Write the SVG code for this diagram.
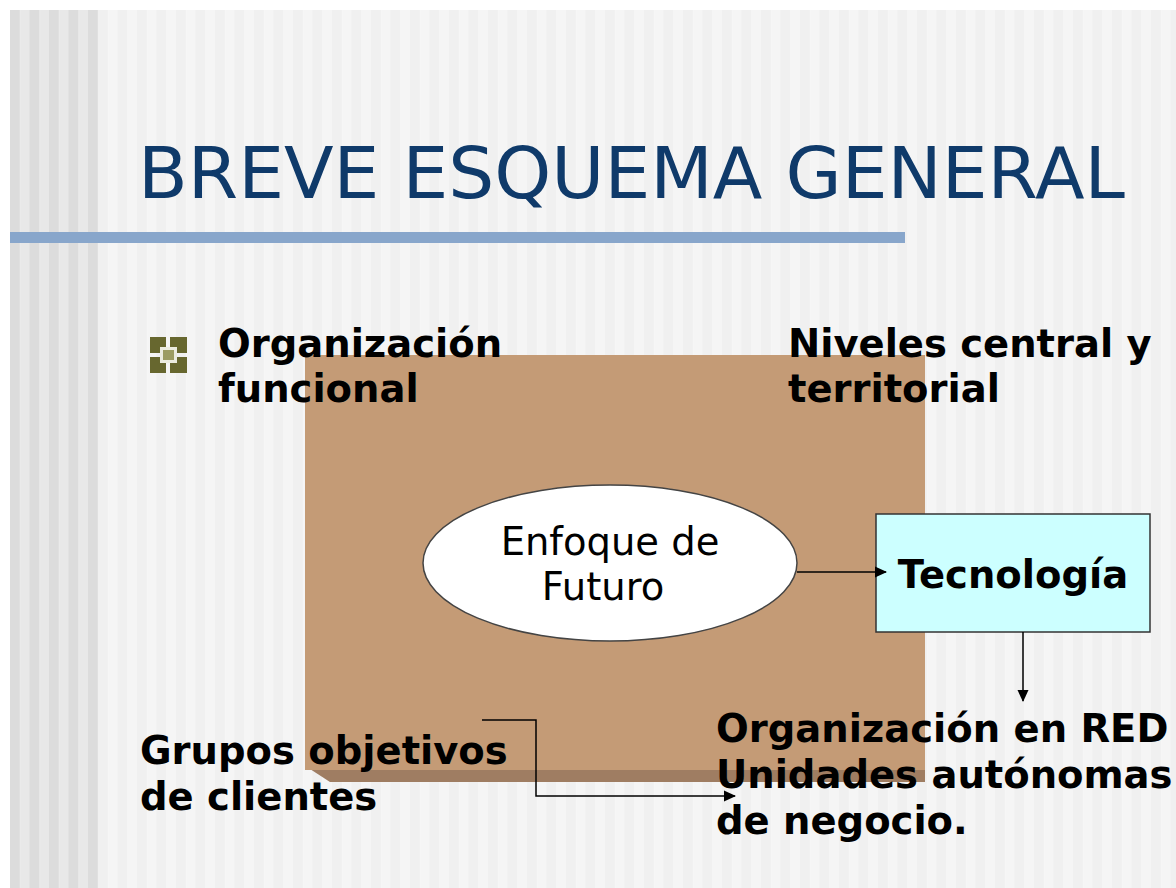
<svg xmlns="http://www.w3.org/2000/svg" width="1176" height="888" viewBox="0 0 1176 888">
  <defs>
    <pattern id="stripeDark" x="10" y="0" width="19.5" height="20" patternUnits="userSpaceOnUse">
      <rect x="0" y="0" width="10" height="20" fill="#dcdcdc"/>
      <rect x="10" y="0" width="9.5" height="20" fill="#e8e8e8"/>
    </pattern>
    <pattern id="stripeLight" x="98" y="0" width="19.5" height="20" patternUnits="userSpaceOnUse">
      <rect x="0" y="0" width="10" height="20" fill="#f0f0f0"/>
      <rect x="10" y="0" width="9.5" height="20" fill="#f5f5f5"/>
    </pattern>
    <marker id="arrow" viewBox="0 0 12 12" refX="11" refY="6" markerWidth="12" markerHeight="12" markerUnits="userSpaceOnUse" orient="auto">
      <path d="M0,0.5 L12,6 L0,11.5 Z" fill="#000"/>
    </marker>
    <style>
      .bold { font-family: "DejaVu Sans", Verdana, sans-serif; font-weight: bold; font-size: 38.5px; fill: #000; }
      .reg { font-family: "DejaVu Sans", Verdana, sans-serif; font-size: 38.5px; fill: #000; }
      .conn { fill: none; stroke: #000; stroke-width: 1.5; }
    </style>
  </defs>

  <!-- background -->
  <rect x="0" y="0" width="1176" height="888" fill="#ffffff"/>
  <rect x="10" y="10" width="88" height="878" fill="url(#stripeDark)"/>
  <rect x="98" y="10" width="1078" height="878" fill="url(#stripeLight)"/>

  <!-- title -->
  <g id="title">
    <text x="138" y="198" font-family="DejaVu Sans, Verdana, sans-serif" font-size="72" fill="#0f3a6a" textLength="987" lengthAdjust="spacingAndGlyphs">BREVE ESQUEMA GENERAL</text>
    <rect x="10" y="232" width="895" height="11" fill="#88a6cb"/>
  </g>

  <!-- brown box -->
  <g id="box">
    <polygon points="310,769 925,769 925,782 330,782" fill="#9f7d62"/>
    <rect x="305" y="355" width="620" height="415" fill="#c49b76"/>
  </g>

  <!-- bullet -->
  <g id="bullet">
    <rect x="150" y="337" width="16" height="16" fill="#67672f"/>
    <rect x="170" y="337" width="17" height="16" fill="#67672f"/>
    <rect x="150" y="357" width="16" height="16" fill="#67672f"/>
    <rect x="170" y="357" width="17" height="16" fill="#67672f"/>
    <rect x="160" y="347" width="17" height="16" fill="#ecece0"/>
    <rect x="163" y="350" width="11" height="10" fill="#9c9c62"/>
  </g>

  <g id="organizacion-funcional">
    <text class="bold" x="218" y="357">Organización</text>
    <text class="bold" x="218" y="402">funcional</text>
  </g>

  <g id="niveles">
    <text class="bold" x="788" y="357">Niveles central y</text>
    <text class="bold" x="788" y="402">territorial</text>
  </g>

  <g id="enfoque">
    <ellipse cx="610" cy="563" rx="187" ry="78" fill="#ffffff" stroke="#444" stroke-width="1.5"/>
    <text class="reg" x="610" y="555" text-anchor="middle">Enfoque de</text>
    <text class="reg" x="603" y="600" text-anchor="middle">Futuro</text>
  </g>

  <g id="tecnologia">
    <rect x="876" y="514" width="274" height="118" fill="#ccffff" stroke="#333" stroke-width="1.5"/>
    <text class="bold" x="1013" y="588" text-anchor="middle">Tecnología</text>
  </g>

  <g id="grupos">
    <text class="bold" x="140" y="764">Grupos objetivos</text>
    <text class="bold" x="140" y="810">de clientes</text>
  </g>

  <g id="red">
    <text class="bold" x="716" y="742">Organización en RED</text>
    <text class="bold" x="716" y="788">Unidades autónomas</text>
    <text class="bold" x="716" y="834">de negocio.</text>
  </g>

  <g id="connectors">
    <line class="conn" x1="797" y1="572" x2="886" y2="572" marker-end="url(#arrow)"/>
    <line class="conn" x1="1023" y1="632" x2="1023" y2="701" marker-end="url(#arrow)"/>
    <polyline class="conn" points="482,720 536,720 536,796 735,796" marker-end="url(#arrow)"/>
  </g>
</svg>
